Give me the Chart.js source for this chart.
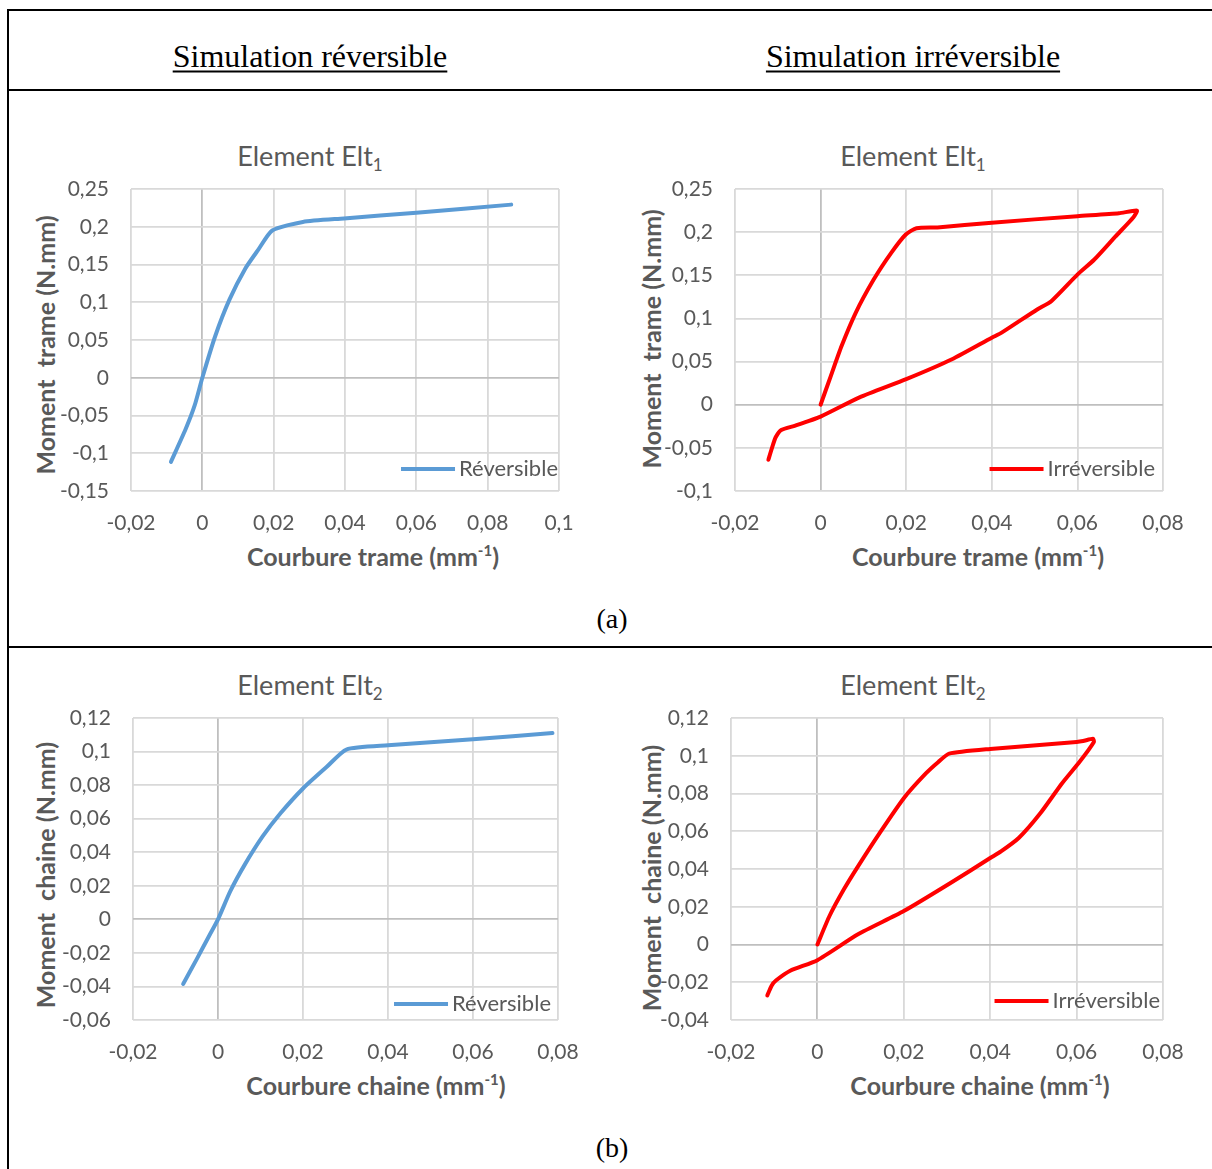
<!DOCTYPE html>
<html>
<head>
<meta charset="utf-8">
<script src="https://cdn.jsdelivr.net/npm/chart.js@4.4.0/dist/chart.umd.min.js"></script>
<style>
  body { margin: 0; background: #fff; }
  #page { position: relative; width: 1212px; height: 1169px; overflow: hidden; font-family: Lato, "Open Sans", sans-serif; }
  .rule { position: absolute; background: #000; }
  .serif { position: absolute; font-family: "Liberation Serif", "Times New Roman", serif; color: #000; transform: translate(-50%, -50%); white-space: nowrap; }
  .head { font-size: 32px; text-decoration: underline; text-decoration-thickness: 2px; text-underline-offset: 4px; }
  .cap { font-size: 28px; }
  canvas { position: absolute; }
  .ctitle { position: absolute; font-size: 27px; color: #595959; transform: translate(-50%, -50%); white-space: nowrap; }
  .ctitle sub { font-size: 17px; vertical-align: -5px; }
  .xt, .yt { position: absolute; font-size: 25px; font-weight: bold; color: #595959; white-space: pre; }
  .xt { transform: translate(-50%, -50%); }
  .yt { transform: translate(-50%, -50%) rotate(-90deg); }
  .xt sup, .yt sup { font-size: 15px; vertical-align: 10px; }
</style>
</head>
<body>
<div id="page">
  <div class="rule" style="left:7px;top:9px;width:1205px;height:2px"></div>
  <div class="rule" style="left:7px;top:9px;width:2px;height:1160px"></div>
  <div class="rule" style="left:7px;top:89px;width:1205px;height:2px"></div>
  <div class="rule" style="left:7px;top:646px;width:1205px;height:2px"></div>

  <div class="serif head" style="left:310px;top:56px">Simulation réversible</div>
  <div class="serif head" style="left:913px;top:56px">Simulation irréversible</div>
  <div class="serif cap" style="left:612px;top:619px">(a)</div>
  <div class="serif cap" style="left:612px;top:1148px">(b)</div>

  <div class="ctitle" style="left:310px;top:157px">Element Elt<sub>1</sub></div>
  <div class="ctitle" style="left:913px;top:157px">Element Elt<sub>1</sub></div>
  <div class="ctitle" style="left:310px;top:686px">Element Elt<sub>2</sub></div>
  <div class="ctitle" style="left:913px;top:686px">Element Elt<sub>2</sub></div>

  <div class="yt" style="left:45px;top:345px">Moment  trame (N.mm)</div>
  <div class="yt" style="left:651px;top:339px">Moment  trame (N.mm)</div>
  <div class="yt" style="left:45px;top:875px">Moment  chaine (N.mm)</div>
  <div class="yt" style="left:651px;top:878px">Moment  chaine (N.mm)</div>

  <div class="xt" style="left:373px;top:556px">Courbure trame (mm<sup>-1</sup>)</div>
  <div class="xt" style="left:978px;top:556px">Courbure trame (mm<sup>-1</sup>)</div>
  <div class="xt" style="left:376px;top:1085px">Courbure chaine (mm<sup>-1</sup>)</div>
  <div class="xt" style="left:980px;top:1085px">Courbure chaine (mm<sup>-1</sup>)</div>

  <canvas id="c1" width="560" height="400" style="left:20px;top:180px"></canvas>
  <canvas id="c2" width="560" height="400" style="left:624px;top:180px"></canvas>
  <canvas id="c3" width="557" height="400" style="left:22px;top:709px"></canvas>
  <canvas id="c4" width="564" height="400" style="left:620px;top:709px"></canvas>
</div>

<script>
// Element Elt1 - trame, reversible
const revTrameX = [-0.0088, -0.0047, -0.0022, 0, 0.0036, 0.0076, 0.0121, 0.0156, 0.0196, 0.0282, 0.0397, 0.06, 0.0866];
const revTrameY = [-0.1114, -0.0682, -0.0374, 0, 0.055, 0.1034, 0.145, 0.169, 0.195, 0.2064, 0.211, 0.2187, 0.2293];

// Element Elt1 - trame, irreversible (loading then unloading)
const irrTrameX = [0, 0.0024, 0.0049, 0.0082, 0.0124, 0.0165, 0.0199, 0.0224, 0.0273, 0.04, 0.06, 0.0697, 0.0739,
  0.0731, 0.0689, 0.0639, 0.06, 0.0539, 0.0506, 0.0423, 0.04, 0.0307, 0.02, 0.0091, 0, -0.0059, -0.0092, -0.0105, -0.0113, -0.0122];
const irrTrameY = [0, 0.0335, 0.068, 0.1065, 0.145, 0.176, 0.1973, 0.2046, 0.2054, 0.211, 0.2185, 0.2219, 0.225,
  0.2173, 0.195, 0.168, 0.1508, 0.12, 0.1104, 0.0835, 0.0777, 0.0527, 0.0296, 0.0085, -0.0138, -0.0242, -0.0292, -0.0377, -0.0492, -0.0638];

// Element Elt2 - chaine, reversible
const revChaineX = [-0.0082, -0.005, -0.0021, 0, 0.0029, 0.0063, 0.0105, 0.0147, 0.02, 0.0256, 0.0302, 0.04, 0.06, 0.0787];
const revChaineY = [-0.0385, -0.0237, -0.0099, 0, 0.0168, 0.0326, 0.0494, 0.0632, 0.078, 0.0909, 0.1012, 0.1037, 0.1073, 0.111];

// Element Elt2 - chaine, irreversible
const irrChaineX = [0, 0.0028, 0.0061, 0.0094, 0.0144, 0.02, 0.0251, 0.028, 0.0305, 0.04, 0.06, 0.0615, 0.0638,
  0.064, 0.0607, 0.0566, 0.0516, 0.0466, 0.0425, 0.04, 0.0309, 0.02, 0.0094, 0, -0.0063, -0.0096, -0.0106, -0.0116];
const irrChaineY = [0, 0.0151, 0.0291, 0.0414, 0.059, 0.0775, 0.0906, 0.0967, 0.1011, 0.1036, 0.1073, 0.1078, 0.109,
  0.1073, 0.0968, 0.0853, 0.0695, 0.0564, 0.0493, 0.0458, 0.0327, 0.0177, 0.0054, -0.0083, -0.0139, -0.0191, -0.0218, -0.027];

// tick values
const trameRevXTicks = [-0.02, 0, 0.02, 0.04, 0.06, 0.08, 0.1];
const trameRevYTicks = [-0.15, -0.1, -0.05, 0, 0.05, 0.1, 0.15, 0.2, 0.25];
const trameIrrXTicks = [-0.02, 0, 0.02, 0.04, 0.06, 0.08];
const trameIrrYTicks = [-0.1, -0.05, 0, 0.05, 0.1, 0.15, 0.2, 0.25];
const chaineXTicks = [-0.02, 0, 0.02, 0.04, 0.06, 0.08];
const chaineRevYTicks = [-0.06, -0.04, -0.02, 0, 0.02, 0.04, 0.06, 0.08, 0.1, 0.12];
const chaineIrrYTicks = [-0.04, -0.02, 0, 0.02, 0.04, 0.06, 0.08, 0.1, 0.12];

const BLUE = '#5b9bd5';
const RED = '#ff0000';
const TEXT = '#595959';
const FONT = 'Lato';

const fmt = v => String(v).replace('.', ',');

// legend drawn inside the plot, bottom right (like Excel)
const insideLegend = {
  id: 'insideLegend',
  afterDatasetsDraw(chart, args, opts) {
    const ds = chart.data.datasets[0];
    const { ctx, chartArea: a } = chart;
    ctx.save();
    ctx.font = '22px ' + FONT;
    const w = ctx.measureText(ds.label).width;
    const y = a.bottom - opts.lift;
    const tx = a.right - opts.right - w;
    ctx.strokeStyle = ds.borderColor;
    ctx.lineWidth = ds.borderWidth;
    ctx.beginPath();
    ctx.moveTo(tx - 4 - 54, y);
    ctx.lineTo(tx - 4, y);
    ctx.stroke();
    ctx.fillStyle = TEXT;
    ctx.textBaseline = 'middle';
    ctx.fillText(ds.label, tx, y);
    ctx.restore();
  }
};

function axis(ticks, pad, fit) {
  return {
    type: 'linear',
    min: ticks[0],
    max: ticks[ticks.length - 1],
    afterBuildTicks: s => { s.ticks = ticks.map(v => ({ value: v })); },
    afterFit: fit,
    grid: {
      color: c => (c.tick && c.tick.value === 0 ? '#bfbfbf' : '#d9d9d9'),
      lineWidth: 1.8,
      drawTicks: false
    },
    border: { display: false },
    ticks: {
      padding: pad,
      color: TEXT,
      font: { family: FONT, size: 21 },
      maxRotation: 0,
      autoSkip: false,
      callback: v => fmt(v)
    }
  };
}

function makeChart(id, xs, ys, xTicks, yTicks, label, color, legend) {
  const pts = xs.map((x, i) => ({ x: x, y: ys[i] }));
  return new Chart(document.getElementById(id), {
    type: 'scatter',
    data: {
      datasets: [{
        label: label,
        data: pts,
        showLine: true,
        borderColor: color,
        backgroundColor: color,
        borderWidth: 4,
        borderCapStyle: 'round',
        borderJoinStyle: 'round',
        pointRadius: 0,
        tension: 0.2
      }]
    },
    options: {
      responsive: false,
      animation: false,
      layout: { padding: { left: 0, right: 21, top: 9, bottom: 0 } },
      plugins: {
        legend: { display: false },
        tooltip: { enabled: false },
        insideLegend: legend
      },
      scales: {
        x: axis(xTicks, 20, s => { s.height = 89; s.paddingLeft = 0; s.paddingRight = 0; }),
        y: axis(yTicks, 22, s => { s.width = 111; s.paddingTop = 0; s.paddingBottom = 0; })
      }
    },
    plugins: [insideLegend]
  });
}

makeChart('c1', revTrameX, revTrameY, trameRevXTicks, trameRevYTicks, 'Réversible', BLUE, { lift: 22, right: 1 });
makeChart('c2', irrTrameX, irrTrameY, trameIrrXTicks, trameIrrYTicks, 'Irréversible', RED, { lift: 22, right: 8 });
makeChart('c3', revChaineX, revChaineY, chaineXTicks, chaineRevYTicks, 'Réversible', BLUE, { lift: 16, right: 7 });
makeChart('c4', irrChaineX, irrChaineY, chaineXTicks, chaineIrrYTicks, 'Irréversible', RED, { lift: 19, right: 3 });
</script>
</body>
</html>
